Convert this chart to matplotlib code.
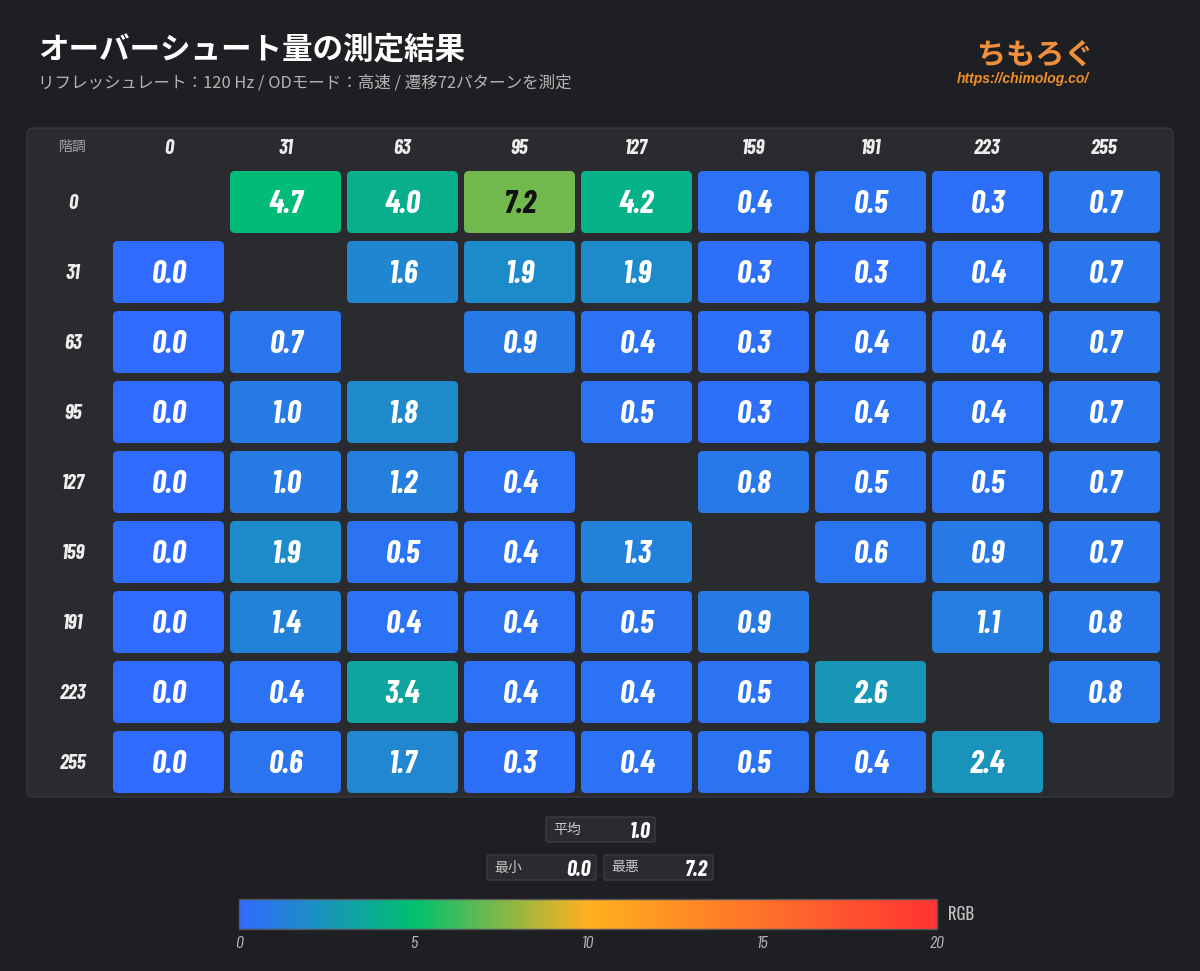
import numpy as np
import matplotlib
matplotlib.use("Agg")
import matplotlib.pyplot as plt
from matplotlib import font_manager
from matplotlib.cm import ScalarMappable
from matplotlib.colors import LinearSegmentedColormap, Normalize
from matplotlib.patches import FancyBboxPatch

# gradation levels (from = rows, to = columns)
levels = [0, 31, 63, 95, 127, 159, 191, 223, 255]
nan = np.nan
overshoot = np.array([
    [nan, 4.7, 4.0, 7.2, 4.2, 0.4, 0.5, 0.3, 0.7],
    [0.0, nan, 1.6, 1.9, 1.9, 0.3, 0.3, 0.4, 0.7],
    [0.0, 0.7, nan, 0.9, 0.4, 0.3, 0.4, 0.4, 0.7],
    [0.0, 1.0, 1.8, nan, 0.5, 0.3, 0.4, 0.4, 0.7],
    [0.0, 1.0, 1.2, 0.4, nan, 0.8, 0.5, 0.5, 0.7],
    [0.0, 1.9, 0.5, 0.4, 1.3, nan, 0.6, 0.9, 0.7],
    [0.0, 1.4, 0.4, 0.4, 0.5, 0.9, nan, 1.1, 0.8],
    [0.0, 0.4, 3.4, 0.4, 0.4, 0.5, 2.6, nan, 0.8],
    [0.0, 0.6, 1.7, 0.3, 0.4, 0.5, 0.4, 2.4, nan],
])
cbar_ticks = [0, 5, 10, 15, 20]
vmin, vmax = 0, 20

title = "オーバーシュート量の測定結果"
subtitle = "リフレッシュレート：120 Hz / ODモード：高速 / 遷移72パターンを測定"

BG = "#1e1f22"
PANEL = "#2a2b2f"
PANEL_EDGE = "#36383d"
MUTED = "#b4b4b4"
JP = ["Noto Sans CJK JP", "DejaVu Sans"]


def pick_font(cands):
    names = {f.name for f in font_manager.fontManager.ttflist}
    for c in cands:
        if c in names:
            return c
    return "DejaVu Sans"


NUM = pick_font(["Barlow Condensed", "Fira Sans Condensed", "Liberation Sans Narrow", "DejaVu Sans"])
PLAIN = pick_font(["Oswald", "Barlow Condensed", "DejaVu Sans"])

cmap = LinearSegmentedColormap.from_list(
    "od", [(0.0, "#2f6bff"), (0.25, "#00c070"), (0.5, "#ffb020"), (1.0, "#ff3333")]
)
norm = Normalize(vmin, vmax)


def text_color(rgb):
    r, g, b = rgb[:3]
    return "#111111" if 0.299 * r + 0.587 * g + 0.114 * b > 0.55 else "white"


fig = plt.figure(figsize=(12, 9.71), dpi=100, facecolor=BG)

# overlay in pixel units for title, panel, summary boxes
ov = fig.add_axes([0, 0, 1, 1], zorder=0)
ov.set_xlim(0, 1200)
ov.set_ylim(971, 0)
ov.axis("off")

ov.text(38, 49, title, fontsize=22, fontweight="bold", color="white",
        va="center", family=JP)
ov.text(38, 83, subtitle, fontsize=11.9, color=MUTED, va="center", family=JP)

ov.text(1035, 55, "ちもろぐ", fontsize=21, fontweight="bold", color="#f0903c",
        ha="center", va="center", family=JP)
ov.text(1023, 79, "https://chimolog.co/", fontsize=10, fontweight="bold",
        fontstyle="italic", color="#f0902a", ha="center", va="center",
        family=["Liberation Sans", "DejaVu Sans"])

ov.add_patch(FancyBboxPatch((27, 128), 1146, 669,
                            boxstyle="round,pad=0,rounding_size=6",
                            fc=PANEL, ec=PANEL_EDGE, lw=1))


def stat_box(x, y, label, value):
    ov.add_patch(FancyBboxPatch((x, y), 109, 25,
                                boxstyle="round,pad=0,rounding_size=2",
                                fc=PANEL, ec="#3b3d42", lw=1))
    ov.text(x + 7, y + 12.5, label, fontsize=10, color="#c8c8c8",
            va="center", family=JP)
    ov.text(x + 104, y + 13, value, fontsize=16, fontweight="bold",
            fontstyle="italic", color="white", ha="right", va="center_baseline",
            family=NUM)


stat_box(546, 817, "平均", f"{np.nanmean(overshoot):.1f}")
stat_box(487, 855, "最小", f"{np.nanmin(overshoot):.1f}")
stat_box(604, 855, "最悪", f"{np.nanmax(overshoot):.1f}")

# heatmap axes: one data unit = one cell pitch
ax = fig.add_axes([27 / 1200, 1 - 797 / 971, 1146 / 1200, 669 / 971], zorder=1)
ax.patch.set_alpha(0)
ax.set_xlim(-1.209, 8.585)
ax.set_ylim(8.5, -1.057)
ax.axis("off")

px_x, px_y = 117, 70
cw, ch = 111 / px_x, 62 / px_y
for i in range(len(levels)):
    for j in range(len(levels)):
        v = overshoot[i, j]
        if np.isnan(v):
            continue
        fc = cmap(norm(v))
        ax.add_patch(FancyBboxPatch((j - cw / 2, i - ch / 2), cw, ch,
                                    boxstyle=f"round,pad=0,rounding_size={5 / px_x}",
                                    mutation_aspect=px_x / px_y, fc=fc, ec="none"))
        ax.text(j, i, f"{v:.1f}", ha="center", va="center_baseline",
                fontsize=23, fontweight="bold", fontstyle="italic",
                family=NUM, color=text_color(fc))

for k, lvl in enumerate(levels):
    ax.text(k, -0.786, str(lvl), ha="center", va="center_baseline",
            fontsize=15, fontweight="bold", fontstyle="italic",
            color="#eeeeee", family=NUM)
    ax.text(-0.816, k, str(lvl), ha="center", va="center_baseline",
            fontsize=15, fontweight="bold", fontstyle="italic",
            color="#eeeeee", family=NUM)
ax.text(-0.816, -0.786, "階調", ha="center", va="center", fontsize=10,
        color="#a8a8a8", family=JP)

# colour scale
cax = fig.add_axes([239 / 1200, 1 - 929 / 971, 698 / 1200, 30 / 971])
cb = fig.colorbar(ScalarMappable(norm=norm, cmap=cmap), cax=cax,
                  orientation="horizontal", ticks=cbar_ticks)
cb.outline.set_edgecolor("#55575c")
cb.outline.set_linewidth(1)
cax.tick_params(length=0, pad=5, labelcolor="#b8b8b8")
for t in cax.get_xticklabels():
    t.set_fontfamily(NUM)
    t.set_fontstyle("italic")
    t.set_fontsize(13)
cax.text(1.016, 0.5, "RGB", transform=cax.transAxes, va="center",
         fontsize=12, color="#c0c0c0", family=PLAIN)

fig.savefig("out.png", facecolor=BG)
